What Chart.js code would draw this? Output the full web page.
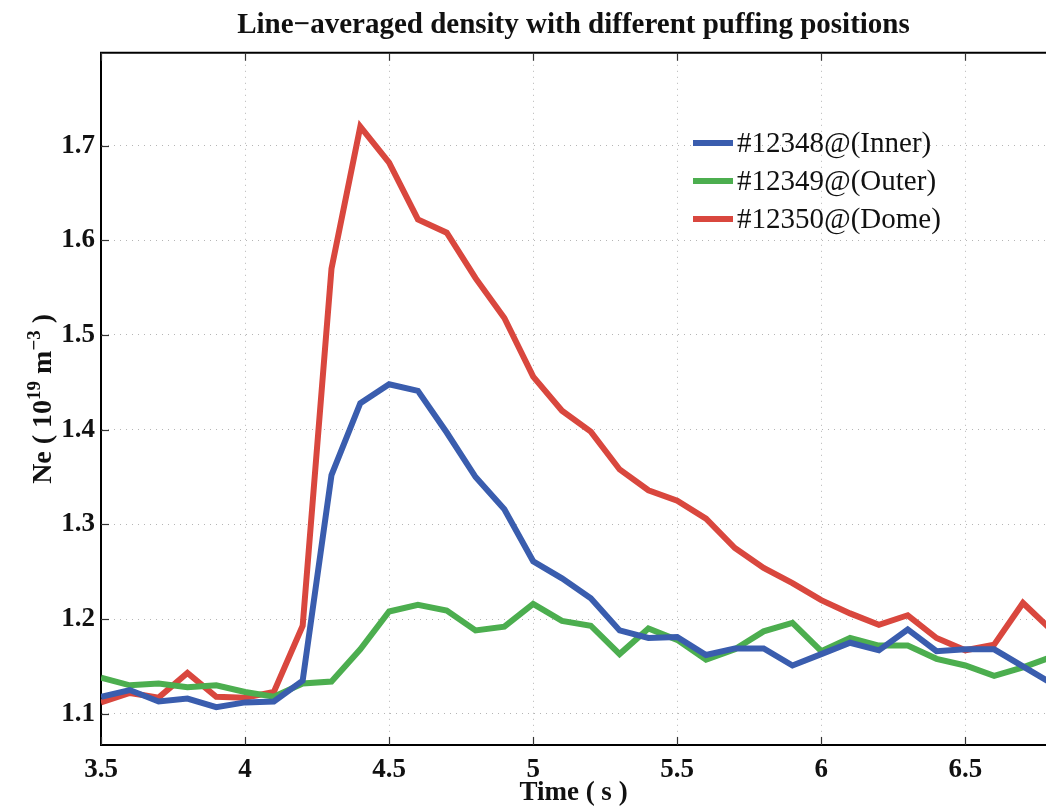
<!DOCTYPE html>
<html><head><meta charset="utf-8">
<script src="https://cdn.jsdelivr.net/npm/chart.js@4/dist/chart.umd.min.js"></script>
<style>html,body{margin:0;padding:0;background:#fff;overflow:hidden}#wrap{width:1046px;height:809px}</style>
</head><body><div id="wrap"><canvas id="c" width="1046" height="809"></canvas></div>
<script>
const times = [3.5,3.6,3.7,3.8,3.9,4.0,4.1,4.2,4.3,4.4,4.5,4.6,4.7,4.8,4.9,5.0,5.1,5.2,5.3,5.4,5.5,5.6,5.7,5.8,5.9,6.0,6.1,6.2,6.3,6.4,6.5,6.6,6.7,6.8];
const inner = [1.118,1.125,1.113,1.116,1.107,1.112,1.113,1.135,1.352,1.428,1.448,1.441,1.397,1.350,1.316,1.261,1.243,1.222,1.188,1.180,1.181,1.162,1.169,1.169,1.151,1.163,1.175,1.167,1.189,1.166,1.168,1.168,1.150,1.132];
const outer = [1.138,1.130,1.132,1.128,1.130,1.123,1.118,1.132,1.134,1.168,1.208,1.215,1.209,1.188,1.192,1.216,1.198,1.193,1.163,1.190,1.178,1.157,1.168,1.187,1.196,1.166,1.180,1.172,1.172,1.158,1.151,1.140,1.149,1.160];
const dome = [1.112,1.122,1.117,1.143,1.118,1.117,1.123,1.193,1.570,1.720,1.682,1.622,1.608,1.560,1.518,1.456,1.420,1.398,1.358,1.336,1.325,1.306,1.275,1.254,1.238,1.220,1.206,1.194,1.204,1.180,1.167,1.173,1.217,1.188];
const seriesLabels = ['#12348@(Inner)','#12349@(Outer)','#12350@(Dome)'];
const seriesColors = ['#3a5dae','#4cae4f','#d9473e'];
const xTicks = [3.5,4,4.5,5,5.5,6,6.5];
const yTicks = [1.1,1.2,1.3,1.4,1.5,1.6,1.7];
const xRange = [3.5, 6.78];
const yRange = [1.067, 1.798];

const serif = '"Liberation Serif","Times New Roman",serif';
const toPts = arr => times.map((t,i)=>({x:t,y:arr[i]}));

const frame = {
  id:'frame',
  afterDatasetsDraw(chart){
    const {ctx, chartArea:a, scales:{x,y}} = chart;
    ctx.save();
    ctx.strokeStyle='#000'; ctx.lineWidth=2;
    ctx.beginPath(); ctx.moveTo(a.left-1,a.top); ctx.lineTo(a.right+2,a.top); ctx.stroke();
    ctx.strokeStyle='#333'; ctx.lineWidth=1.2;
    const L=8;
    xTicks.forEach(v=>{const px=Math.round(x.getPixelForValue(v))+0.5;
      ctx.beginPath();ctx.moveTo(px,a.bottom);ctx.lineTo(px,a.bottom-L);ctx.stroke();
      ctx.beginPath();ctx.moveTo(px,a.top);ctx.lineTo(px,a.top+L);ctx.stroke();});
    yTicks.forEach(v=>{const py=Math.round(y.getPixelForValue(v))+0.5;
      ctx.beginPath();ctx.moveTo(a.left,py);ctx.lineTo(a.left+L,py);ctx.stroke();});
    ctx.restore();
  },
  afterDraw(chart){
    const {ctx, chartArea:a} = chart;
    // legend
    ctx.save();
    ctx.font = '29px '+serif; ctx.textBaseline='middle'; ctx.fillStyle='#111';
    chart.data.datasets.forEach((ds,i)=>{
      const yy = 143 + i*38;
      ctx.strokeStyle = ds.borderColor; ctx.lineWidth = 6;
      ctx.beginPath(); ctx.moveTo(693,yy); ctx.lineTo(733,yy); ctx.stroke();
      ctx.fillText(ds.label, 737, yy+1);
    });
    ctx.restore();
    // y axis title with superscripts
    const parts = [['Ne ( 10',28,0],['19',19,-11],[' m',28,0],['\u22123',19,-11],[' )',28,0]];
    ctx.save();
    ctx.fillStyle='#111'; ctx.textBaseline='alphabetic';
    let w=0; parts.forEach(p=>{ctx.font='bold '+p[1]+'px '+serif; w+=ctx.measureText(p[0]).width;});
    ctx.translate(51,(a.top+a.bottom)/2); ctx.rotate(-Math.PI/2);
    let cx=-w/2;
    parts.forEach(p=>{ctx.font='bold '+p[1]+'px '+serif; ctx.fillText(p[0],cx,p[2]); cx+=ctx.measureText(p[0]).width;});
    ctx.restore();
  }
};

new Chart(document.getElementById('c'),{
  type:'line',
  data:{datasets:[
    {label:seriesLabels[0],data:toPts(inner),borderColor:seriesColors[0]},
    {label:seriesLabels[1],data:toPts(outer),borderColor:seriesColors[1]},
    {label:seriesLabels[2],data:toPts(dome),borderColor:seriesColors[2]}
  ]},
  options:{
    responsive:false, animation:false,
    layout:{padding:0},
    elements:{line:{borderWidth:6,tension:0},point:{radius:0}},
    plugins:{
      legend:{display:false}, tooltip:{enabled:false},
      title:{display:true,fullSize:false,text:'Line\u2212averaged density with different puffing positions',
        color:'#111',font:{family:serif,size:29,weight:'bold'},padding:{top:8,bottom:10}}
    },
    scales:{
      x:{type:'linear',min:xRange[0],max:xRange[1],
        afterBuildTicks:s=>{s.ticks=xTicks.map(v=>({value:v}));},
        afterFit:s=>{s.height=64;},
        ticks:{callback:v=>String(v),color:'#111',font:{family:serif,size:27,weight:'bold'},padding:9,maxRotation:0,autoSkip:false},
        grid:{color:'#b5b5b5',lineWidth:1,drawTicks:false},
        border:{color:'#000',width:2,dash:[1,5]},
        title:{display:true,text:'Time ( s )',color:'#111',font:{family:serif,size:27,weight:'bold'},padding:{top:0,bottom:0}}
      },
      y:{type:'linear',min:yRange[0],max:yRange[1],
        afterBuildTicks:s=>{s.ticks=yTicks.map(v=>({value:v}));},
        afterFit:s=>{s.width=101;},
        ticks:{callback:v=>v.toFixed(1),color:'#111',font:{family:serif,size:27,weight:'bold'},padding:6,autoSkip:false},
        grid:{color:'#b5b5b5',lineWidth:1,drawTicks:false},
        border:{color:'#000',width:2,dash:[1,5]}
      }
    }
  },
  plugins:[frame]
});
</script></body></html>
